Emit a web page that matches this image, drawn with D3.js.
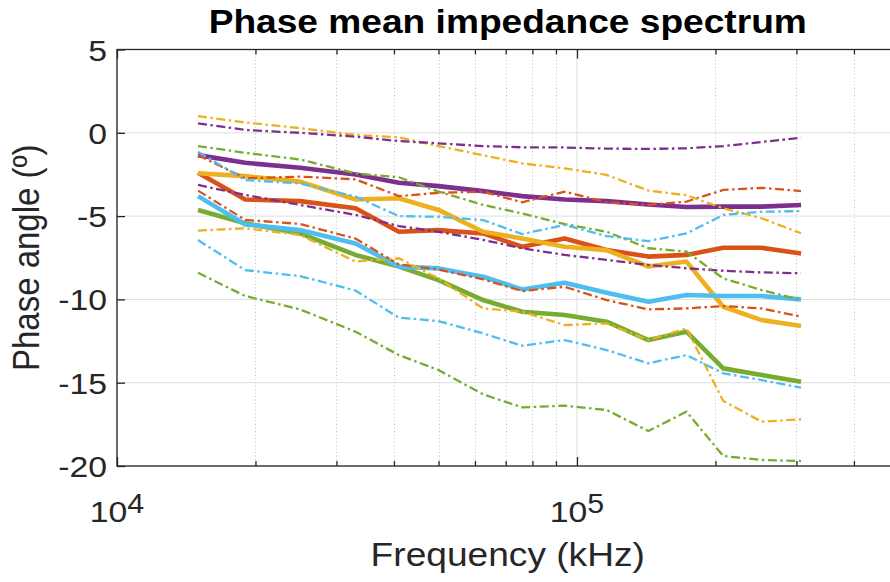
<!DOCTYPE html>
<html>
<head>
<meta charset="utf-8">
<script src="https://cdn.jsdelivr.net/npm/d3@7"></script>
<style>
  html, body { margin: 0; padding: 0; background: #fff; overflow: hidden; }
  text { font-family: "Liberation Sans", Arial, Helvetica, sans-serif; }
</style>
</head>
<body>
<svg id="chart" width="890" height="582"></svg>
<script>
// Measurement frequencies (x values)
const frequencies = [15000, 19000, 25000, 33000, 41000, 50000, 62500, 76000, 94000, 116000, 143000, 173000, 208000, 252000, 307000];

// Phase angle (degrees): mean and upper/lower bound per group
const orangeMean  = [-2.4, -4.0, -4.1, -4.53, -5.94, -5.84, -6.04, -6.84, -6.34, -7.04, -7.43, -7.33, -6.9, -6.9, -7.24];
const orangeUpper = [-1.34, -2.73, -2.63, -2.79, -3.8, -3.6, -3.53, -4.17, -3.53, -4.17, -4.33, -4.13, -3.43, -3.3, -3.5];
const orangeLower = [-3.47, -5.23, -5.47, -6.35, -7.9, -8.2, -8.8, -9.5, -9.24, -10.04, -10.6, -10.54, -10.4, -10.54, -11.04];

const yellowMean  = [-2.43, -2.6, -2.93, -4.0, -3.93, -4.63, -5.94, -6.34, -6.84, -7.04, -8.03, -7.73, -10.44, -11.24, -11.6];
const yellowUpper = [1.0, 0.62, 0.28, -0.13, -0.27, -0.8, -1.34, -1.84, -2.13, -2.53, -3.47, -3.75, -4.53, -5.13, -6.03];
const yellowLower = [-5.87, -5.73, -6.13, -7.73, -7.53, -8.74, -10.54, -10.74, -11.54, -11.44, -12.44, -11.74, -16.1, -17.34, -17.2];

const purpleMean  = [-1.34, -1.8, -2.1, -2.5, -3.0, -3.2, -3.5, -3.8, -4.0, -4.1, -4.3, -4.45, -4.43, -4.43, -4.33];
const purpleUpper = [0.57, 0.17, 0.0, -0.23, -0.5, -0.63, -0.8, -0.87, -0.88, -0.95, -0.97, -0.93, -0.8, -0.55, -0.3];
const purpleLower = [-3.13, -3.73, -4.33, -4.93, -5.6, -5.94, -6.43, -6.93, -7.33, -7.63, -7.93, -8.13, -8.28, -8.38, -8.43];

const greenMean   = [-4.63, -5.43, -6.04, -7.33, -8.03, -8.84, -10.04, -10.74, -10.94, -11.34, -12.44, -11.94, -14.14, -14.54, -14.94];
const greenUpper  = [-0.8, -1.2, -1.6, -2.44, -2.67, -3.53, -4.33, -4.84, -5.48, -5.94, -6.93, -7.13, -8.74, -9.44, -10.04];
const greenLower  = [-8.4, -9.8, -10.6, -11.94, -13.34, -14.24, -15.7, -16.48, -16.38, -16.64, -17.9, -16.74, -19.4, -19.64, -19.7];

const cyanMean    = [-3.8, -5.5, -5.84, -6.64, -8.03, -8.14, -8.64, -9.4, -9.0, -9.6, -10.14, -9.74, -9.8, -9.8, -10.0];
const cyanUpper   = [-1.14, -2.84, -3.04, -3.83, -5.0, -5.04, -5.24, -6.08, -5.53, -6.2, -6.5, -6.04, -4.93, -4.74, -4.7];
const cyanLower   = [-6.44, -8.24, -8.6, -9.47, -11.1, -11.3, -12.04, -12.78, -12.44, -13.04, -13.84, -13.34, -14.44, -14.84, -15.3];

// Axis ticks and labels
const yTicks = [-20, -15, -10, -5, 0, 5];
const xMajorTicks = [1e4, 1e5];
const xMinorTicks = [2e4, 3e4, 4e4, 5e4, 6e4, 7e4, 8e4, 9e4, 2e5, 3e5, 4e5];
const titleText = "Phase mean impedance spectrum";
const xLabelText = "Frequency (kHz)";
const yLabelText = "Phase angle (º)";

const groups = [
  { color: "#D95319", mean: orangeMean, upper: orangeUpper, lower: orangeLower },
  { color: "#EDB120", mean: yellowMean, upper: yellowUpper, lower: yellowLower },
  { color: "#7E2F8E", mean: purpleMean, upper: purpleUpper, lower: purpleLower },
  { color: "#77AC30", mean: greenMean,  upper: greenUpper,  lower: greenLower  },
  { color: "#4DBEEE", mean: cyanMean,   upper: cyanUpper,   lower: cyanLower   }
];

// ---- layout ----
const W = 890, H = 582;
const plotLeft = 117, plotRight = 898.5, plotTop = 49.5, plotBottom = 466;
const textStretch = 1.125;   // glyphs are drawn slightly wide
const axisColor = "#262626";

const svg = d3.select("#chart");
svg.append("rect").attr("width", W).attr("height", H).attr("fill", "#fff");

const x = d3.scaleLog().domain([1e4, 5e5]).range([plotLeft, plotRight]);
const y = d3.scaleLinear().domain([-20, 5]).range([plotBottom, plotTop]);

// widen a text element horizontally around its anchor
function widen(sel, pre) {
  sel.each(function () {
    const t = d3.select(this);
    const x0 = +t.attr("x") || 0;
    const base = pre || t.attr("transform") || "";
    t.attr("transform", `${base} translate(${x0},0) scale(${textStretch},1) translate(${-x0},0)`);
  });
}

// ---- grid ----
const grid = svg.append("g");
grid.selectAll(".hg").data(yTicks).join("line")
  .attr("x1", plotLeft).attr("x2", plotRight)
  .attr("y1", d => y(d)).attr("y2", d => y(d))
  .attr("stroke", "#dedede").attr("stroke-width", 1);
grid.selectAll(".vg").data(xMajorTicks).join("line")
  .attr("x1", d => x(d)).attr("x2", d => x(d))
  .attr("y1", plotTop).attr("y2", plotBottom)
  .attr("stroke", "#dedede").attr("stroke-width", 1);
grid.selectAll(".vm").data(xMinorTicks).join("line")
  .attr("x1", d => Math.round(x(d)) + 0.5).attr("x2", d => Math.round(x(d)) + 0.5)
  .attr("y1", plotTop).attr("y2", plotBottom)
  .attr("stroke", "#c4c4c4").attr("stroke-width", 1)
  .attr("stroke-dasharray", "1,2.5");

// ---- data lines ----
const line = d3.line()
  .x((d, i) => x(frequencies[i]))
  .y(d => y(d));

const plot = svg.append("g");
groups.forEach(g => {
  plot.append("path").datum(g.mean)
    .attr("d", line).attr("fill", "none")
    .attr("stroke", g.color).attr("stroke-width", 4.6)
    .attr("stroke-linejoin", "round");
});
groups.forEach(g => {
  [g.upper, g.lower].forEach(vals => {
    plot.append("path").datum(vals)
      .attr("d", line).attr("fill", "none")
      .attr("stroke", g.color).attr("stroke-width", 2.3)
      .attr("stroke-dasharray", "9,3.5,2.5,3.5");
  });
});

// ---- axes ----
const yAxis = svg.append("g").attr("transform", `translate(${plotLeft},0)`)
  .call(d3.axisLeft(y).tickValues(yTicks).tickSize(-8).tickPadding(10).tickFormat(d => String(d)));
yAxis.select(".domain").remove();
yAxis.selectAll(".tick line").attr("stroke", axisColor).attr("stroke-width", 1.3);
yAxis.selectAll(".tick text")
  .attr("fill", axisColor).attr("font-size", 30)
  .attr("font-family", "Liberation Sans, Arial, sans-serif")
  .attr("dy", "0.35em");
widen(yAxis.selectAll(".tick text"), " ");

const xMajB = svg.append("g").attr("transform", `translate(0,${plotBottom})`)
  .call(d3.axisBottom(x).tickValues(xMajorTicks).tickSize(-9).tickFormat(""));
const xMinB = svg.append("g").attr("transform", `translate(0,${plotBottom})`)
  .call(d3.axisBottom(x).tickValues(xMinorTicks).tickSize(-5).tickFormat(""));
const xMajT = svg.append("g").attr("transform", `translate(0,${plotTop})`)
  .call(d3.axisTop(x).tickValues(xMajorTicks).tickSize(-9).tickFormat(""));
const xMinT = svg.append("g").attr("transform", `translate(0,${plotTop})`)
  .call(d3.axisTop(x).tickValues(xMinorTicks).tickSize(-5).tickFormat(""));
[xMajB, xMinB, xMajT, xMinT].forEach(a => {
  a.select(".domain").remove();
  a.selectAll(".tick line").attr("stroke", axisColor).attr("stroke-width", 1.3);
});

// axes box
svg.append("rect")
  .attr("x", plotLeft).attr("y", plotTop)
  .attr("width", plotRight - plotLeft).attr("height", plotBottom - plotTop)
  .attr("fill", "none").attr("stroke", axisColor).attr("stroke-width", 1.3);

// x tick labels as powers of ten
const xLab = svg.append("g");
xMajorTicks.forEach(v => {
  const t = xLab.append("text")
    .attr("x", x(v)).attr("y", 522)
    .attr("text-anchor", "middle")
    .attr("fill", axisColor).attr("font-size", 30);
  t.append("tspan").text("10");
  t.append("tspan").attr("font-size", 27).attr("dy", -9).text(String(Math.round(Math.log10(v))));
  widen(t);
});

// ---- titles ----
const title = svg.append("text")
  .attr("x", (plotLeft + plotRight) / 2).attr("y", 33)
  .attr("text-anchor", "middle")
  .attr("font-size", 33).attr("font-weight", "bold").attr("fill", "#000")
  .text(titleText);
widen(title);

const xLabel = svg.append("text")
  .attr("x", (plotLeft + plotRight) / 2).attr("y", 566)
  .attr("text-anchor", "middle")
  .attr("font-size", 33).attr("fill", axisColor)
  .text(xLabelText);
widen(xLabel);

svg.append("text")
  .attr("transform", `translate(39,${(plotTop + plotBottom) / 2}) scale(${textStretch},1) rotate(-90)`)
  .attr("text-anchor", "middle")
  .attr("font-size", 33).attr("fill", axisColor)
  .text(yLabelText);
</script>
</body>
</html>
